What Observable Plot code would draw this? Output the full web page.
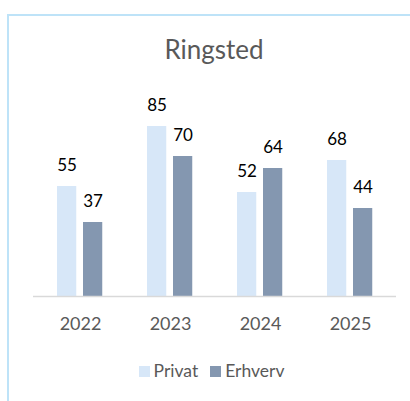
<!DOCTYPE html>
<html>
<head>
<meta charset="utf-8">
<script src="https://cdn.jsdelivr.net/npm/d3@7"></script>
<script src="https://cdn.jsdelivr.net/npm/@observablehq/plot@0.6"></script>
<style>
  html, body { margin: 0; padding: 0; background: #fff; }
  body { width: 410px; height: 401px; position: relative; overflow: hidden; font-family: Lato, "Liberation Sans", sans-serif; }
  #frame { position: absolute; left: 7px; top: 14px; width: 420px; height: 400px; border-left: 2px solid #BEE3F8; border-top: 2px solid #BEE3F8; box-sizing: border-box; }
  #title { position: absolute; left: 0; width: 428px; top: 34px; text-align: center; font-size: 26px; line-height: 30px; color: #595959; }
  #chart { position: absolute; left: 0; top: 0; }
  #legend { position: absolute; left: 0; width: 435px; top: 361px; display: flex; justify-content: center; align-items: center; font-size: 17.5px; color: #595959; line-height: 20px; }
  .sw { display: inline-block; width: 11px; height: 11px; margin-right: 4px; }
  .item { display: flex; align-items: center; margin-right: 12px; }
</style>
</head>
<body>
<div id="frame"></div>
<div id="title">Ringsted</div>
<div id="chart"></div>
<div id="legend"></div>
<script>
const years = ["2022", "2023", "2024", "2025"];
const privat = [55, 85, 52, 68];
const erhverv = [37, 70, 64, 44];
const seriesNames = ["Privat", "Erhverv"];
const seriesColors = ["#D7E7F8", "#8497B0"];

const dataP = years.map((y, i) => ({year: y, value: privat[i]}));
const dataE = years.map((y, i) => ({year: y, value: erhverv[i]}));

const labelFont = "Lato, 'Liberation Sans', sans-serif";

const chart = Plot.plot({
  width: 410,
  height: 340,
  marginLeft: 33,
  marginRight: 14,
  marginTop: 96,
  marginBottom: 44,
  style: {fontFamily: labelFont, background: "transparent"},
  x: {domain: years, padding: 0, label: null},
  y: {domain: [0, 100], axis: null},
  marks: [
    Plot.barY(dataP, {x: "year", y: "value", fill: seriesColors[0], insetLeft: 22, insetRight: 48.75}),
    Plot.barY(dataE, {x: "year", y: "value", fill: seriesColors[1], insetLeft: 48, insetRight: 22.75}),
    Plot.ruleY([0], {stroke: "#D9D9D9", strokeWidth: 1.5}),
    Plot.text(dataP, {x: "year", y: "value", text: d => String(d.value), dx: -13.5, dy: -21, lineAnchor: "middle", fontSize: 17, fill: "#000"}),
    Plot.text(dataE, {x: "year", y: "value", text: d => String(d.value), dx: 12.5, dy: -21, lineAnchor: "middle", fontSize: 17, fill: "#000"}),
    Plot.axisX({tickSize: 0, tickPadding: 21, fontSize: 18, fill: "#595959", label: null})
  ]
});
document.getElementById("chart").appendChild(chart);

const legend = document.getElementById("legend");
seriesNames.forEach((name, i) => {
  const item = document.createElement("span");
  item.className = "item";
  const sw = document.createElement("span");
  sw.className = "sw";
  sw.style.background = seriesColors[i];
  item.appendChild(sw);
  item.appendChild(document.createTextNode(name));
  legend.appendChild(item);
});
</script>
</body>
</html>
